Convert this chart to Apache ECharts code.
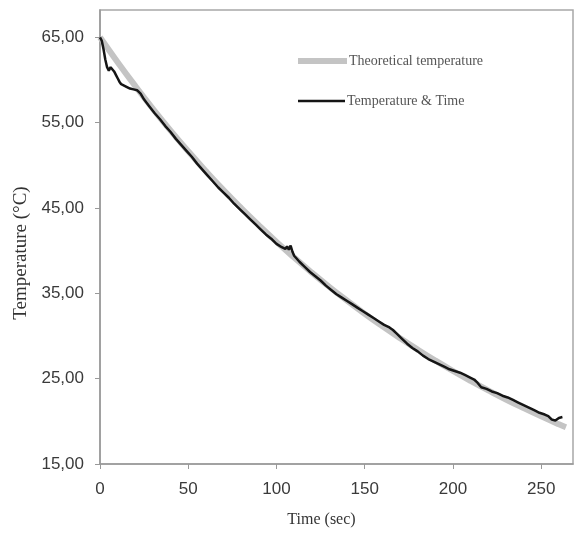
<!DOCTYPE html>
<html>
<head>
<meta charset="utf-8">
<script src="https://cdn.jsdelivr.net/npm/echarts@6/dist/echarts.min.js"></script>
<style>html,body{margin:0;padding:0;background:#fff;}#c{width:576px;height:533px;}</style>
</head>
<body>
<div id="c"></div>
<script>
// Theoretical temperature (time in sec, temperature in °C)
const theoTime = [0,10,20,30,40,50,60,70,80,90,100,110,120,130,140,150,160,170,180,190,200,210,220,230,240,250,260,264];
const theoTemp = [65.00,62.08,59.29,56.62,54.07,51.64,49.32,47.10,44.99,42.97,41.03,39.19,37.43,35.74,34.14,32.60,31.14,29.74,28.40,27.12,25.90,24.74,23.63,22.56,21.55,20.58,19.65,19.30];
// Measured temperature & time
const measTime = [0,1,2,3,4,5,6,7,8,9,10,11,12,13,15,17,19,21,23,25,28,31,34,37,40,43,46,49,52,55,58,61,64,67,70,73,76,79,82,85,88,91,94,97,100,103,105,106,107,108,109,110,113,116,119,122,125,128,131,134,137,140,143,146,149,152,155,158,161,164,166,168,171,174,177,180,183,186,189,192,195,198,201,204,207,210,212,214,216,219,222,225,228,231,234,237,240,243,246,249,252,254,256,257,258,259,260,261,262];
const measTemp = [65.0,64.6,63.6,62.4,61.5,61.1,61.5,61.4,61.0,60.6,60.2,59.8,59.5,59.3,59.2,59.0,58.9,58.8,58.4,57.7,56.9,56.1,55.4,54.6,53.9,53.1,52.4,51.7,51.0,50.2,49.5,48.8,48.1,47.4,46.8,46.2,45.5,44.9,44.3,43.7,43.1,42.5,41.9,41.4,40.8,40.4,40.2,40.5,40.1,40.6,39.9,39.4,38.7,38.1,37.5,37.0,36.5,35.9,35.4,34.9,34.5,34.1,33.7,33.3,32.9,32.5,32.1,31.7,31.3,31.0,30.7,30.3,29.7,29.1,28.6,28.2,27.7,27.3,27.0,26.7,26.4,26.1,25.9,25.7,25.4,25.1,24.9,24.5,24.0,23.8,23.5,23.3,23.0,22.8,22.5,22.2,21.9,21.6,21.3,21.0,20.8,20.6,20.2,20.0,20.1,20.3,20.4,20.3,20.5];
const seriesNames = ['Theoretical temperature', 'Temperature & Time'];
const xTitle = 'Time (sec)';
const yTitle = 'Temperature (°C)';

const legendText = {fontFamily: 'Liberation Serif', fontSize: 14, color: '#555', padding: [0, 0, 0, -3]};
const chart = echarts.init(document.getElementById('c'));
chart.setOption({
  animation: false,
  backgroundColor: '#fff',
  grid: {left: 100, top: 10, right: 3, bottom: 69, show: true, borderColor: '#a8a8a8', borderWidth: 1.5, backgroundColor: 'transparent'},
  legend: [
    {left: 293, top: 49, icon: 'rect', itemWidth: 49, itemHeight: 6, textStyle: legendText, data: [seriesNames[0]]},
    {left: 293, top: 89, icon: 'rect', itemWidth: 47, itemHeight: 2.5, textStyle: legendText, data: [seriesNames[1]]}
  ],
  xAxis: {
    type: 'value', min: 0, max: 268, interval: 50,
    name: xTitle, nameLocation: 'middle', nameGap: 48,
    nameTextStyle: {fontFamily: 'Liberation Serif', fontSize: 16, color: '#333', padding: [0, 30, 0, 0]},
    axisLine: {show: true, lineStyle: {color: '#999', width: 1.5}},
    axisTick: {show: true, length: 5, lineStyle: {color: '#999'}},
    axisLabel: {fontFamily: 'Liberation Sans', fontSize: 17, color: '#3a3a3a', margin: 17, showMaxLabel: false},
    splitLine: {show: false}
  },
  yAxis: {
    type: 'value', min: 15, max: 68.2, interval: 10,
    name: yTitle, nameLocation: 'middle', nameGap: 68, nameRotate: 90,
    nameTextStyle: {fontFamily: 'Liberation Serif', fontSize: 19, color: '#333', padding: [0, 32, 0, 0]},
    axisLine: {show: true, lineStyle: {color: '#999', width: 1.5}},
    axisTick: {show: true, length: 5, lineStyle: {color: '#999'}},
    axisLabel: {fontFamily: 'Liberation Sans', fontSize: 17, color: '#3a3a3a', margin: 16, showMaxLabel: false,
      formatter: v => v.toFixed(2).replace('.', ',')},
    splitLine: {show: false}
  },
  series: [
    {name: seriesNames[0], type: 'line', showSymbol: false, symbol: 'none', smooth: true,
     lineStyle: {color: '#c4c4c4', width: 6}, itemStyle: {color: '#c4c4c4'},
     data: theoTime.map((t, i) => [t, theoTemp[i]])},
    {name: seriesNames[1], type: 'line', showSymbol: false, symbol: 'none',
     lineStyle: {color: '#151515', width: 2.5}, itemStyle: {color: '#151515'},
     data: measTime.map((t, i) => [t, measTemp[i]])}
  ]
});
</script>
</body>
</html>
